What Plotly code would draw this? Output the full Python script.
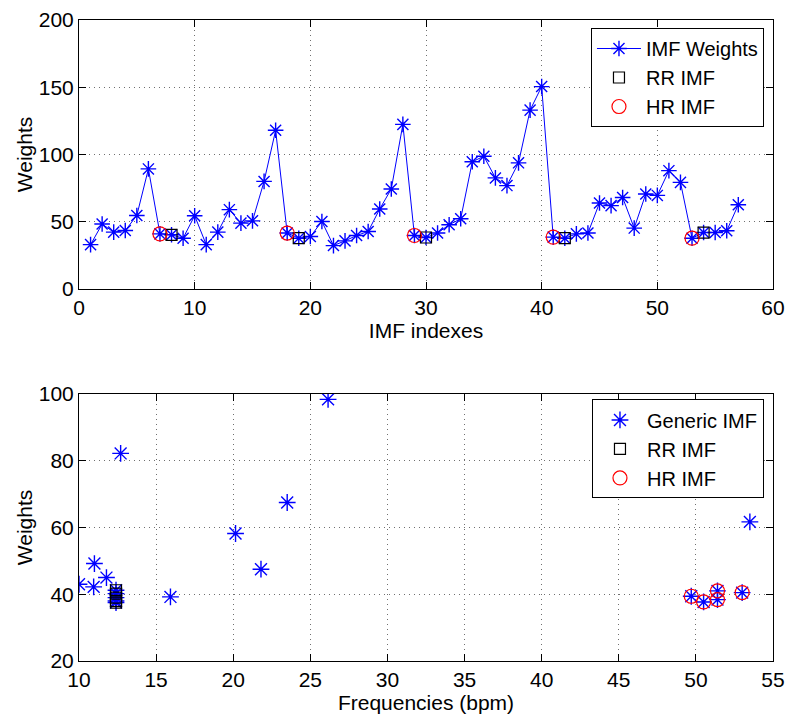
import plotly.graph_objects as go
from plotly.subplots import make_subplots

# ---- Top panel data ----
imf_index = list(range(1, 58))
imf_weights = [33, 48.3, 42.3, 43.5, 54.7, 89.3, 41, 40.3, 37.8, 54.5,
               33, 42.3, 59, 49, 50.7, 80, 118, 41.6, 37.8, 39,
               50.2, 32.3, 35.8, 39.8, 42.8, 59.5, 74.4, 122.4, 39.8, 38.3,
               41.6, 47.8, 52.2, 94.6, 98.7, 82.6, 76.9, 93.8, 133, 150.5,
               38.6, 37.8, 41, 41.6, 64, 62, 68, 45.3, 70.7, 69.6,
               88, 79.3, 37.8, 42, 42, 43.3, 62.7]
rr_index = [8, 19, 30, 42, 54]
hr_index = [7, 18, 29, 41, 53]
rr_weights = [imf_weights[i - 1] for i in rr_index]
hr_weights = [imf_weights[i - 1] for i in hr_index]

# ---- Bottom panel data ----
generic_freq = [10.0, 10.95, 11.0, 11.78, 12.7, 15.93, 20.15, 21.8, 23.5, 26.15, 53.5]
generic_w = [43.0, 42.2, 49.2, 45.0, 82.2, 39.2, 58.2, 47.5, 67.5, 98.4, 61.7]
rr_freq = [12.4, 12.4, 12.4, 12.4, 12.4]
rr_w = [41.2, 40.2, 39.0, 38.0, 37.5]
hr_freq = [49.7, 50.5, 51.4, 51.4, 53.0]
hr_w = [39.4, 37.7, 41.0, 38.4, 40.5]

top_xticks = [0, 10, 20, 30, 40, 50, 60]
top_yticks = [0, 50, 100, 150, 200]
bot_xticks = [10, 15, 20, 25, 30, 35, 40, 45, 50, 55]
bot_yticks = [20, 40, 60, 80, 100]

FONT = "Liberation Sans"
FS = 21
LFS = 20
BLUE = "#0000ff"

fig = make_subplots(rows=2, cols=1)

fig.add_trace(go.Scatter(
    x=imf_index, y=imf_weights, mode="lines+markers", name="IMF Weights",
    line=dict(color=BLUE, width=1),
    marker=dict(symbol="asterisk-open", size=13, color=BLUE, line=dict(color=BLUE, width=1.4)),
    legend="legend"), row=1, col=1)
fig.add_trace(go.Scatter(
    x=rr_index, y=rr_weights, mode="markers", name="RR IMF",
    marker=dict(symbol="square-open", size=11, color="black", line=dict(color="black", width=1.2)),
    legend="legend"), row=1, col=1)
fig.add_trace(go.Scatter(
    x=hr_index, y=hr_weights, mode="markers", name="HR IMF",
    marker=dict(symbol="circle-open", size=14, color="red", line=dict(color="red", width=1.2)),
    legend="legend"), row=1, col=1)

all_freq = generic_freq + rr_freq + hr_freq
all_w = generic_w + rr_w + hr_w
fig.add_trace(go.Scatter(
    x=all_freq, y=all_w, mode="markers", name="Generic IMF",
    marker=dict(symbol="asterisk-open", size=14, color=BLUE, line=dict(color=BLUE, width=1.4)),
    legend="legend2"), row=2, col=1)
fig.add_trace(go.Scatter(
    x=rr_freq, y=rr_w, mode="markers", name="RR IMF",
    marker=dict(symbol="square-open", size=11, color="black", line=dict(color="black", width=1.2)),
    legend="legend2"), row=2, col=1)
fig.add_trace(go.Scatter(
    x=hr_freq, y=hr_w, mode="markers", name="HR IMF",
    marker=dict(symbol="circle-open", size=14, color="red", line=dict(color="red", width=1.2)),
    legend="legend2"), row=2, col=1)

axis_common = dict(
    showline=True, linecolor="black", linewidth=1, mirror="allticks",
    ticks="inside", ticklen=7, tickcolor="black",
    showgrid=True, gridcolor="#707070", griddash="1px,4px", gridwidth=1,
    zeroline=False, automargin=False,
    tickfont=dict(family=FONT, size=FS, color="black"),
    title_font=dict(family=FONT, size=FS, color="black"),
)

fig.update_xaxes(**axis_common)
fig.update_yaxes(**axis_common)

fig.update_xaxes(range=[0, 60], tickvals=top_xticks, domain=[0, 1],
                 title_text="IMF indexes", title_standoff=0, row=1, col=1)
fig.update_yaxes(range=[0, 200], tickvals=top_yticks, domain=[0.5803, 1],
                 title_text="Weights", title_standoff=0, row=1, col=1)
fig.update_xaxes(range=[10, 55], tickvals=bot_xticks, domain=[0, 1],
                 title_text="Frequencies (bpm)", title_standoff=0, row=2, col=1)
fig.update_yaxes(range=[20, 100], tickvals=bot_yticks, domain=[0, 0.4165],
                 title_text="Weights", title_standoff=0, row=2, col=1)

legend_common = dict(
    bgcolor="white", bordercolor="black", borderwidth=1,
    font=dict(family=FONT, size=LFS, color="black"),
    xanchor="right", yanchor="top", tracegroupgap=0, itemwidth=44,
)

fig.update_layout(
    width=785, height=714,
    margin=dict(l=79, r=12, t=20, b=53),
    paper_bgcolor="white", plot_bgcolor="white",
    font=dict(family=FONT, size=FS, color="black"),
    legend=dict(x=0.987, y=0.9875, **legend_common),
    legend2=dict(x=0.987, y=0.408, **legend_common),
)

fig.write_html("out.html")
